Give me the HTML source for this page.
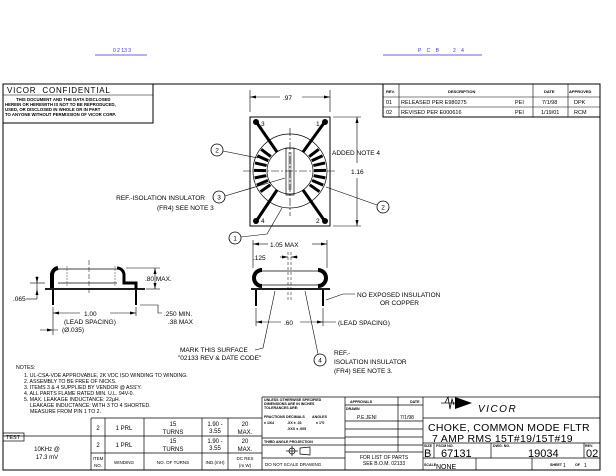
<!DOCTYPE html>
<html><head><meta charset="utf-8"><style>
html,body{margin:0;padding:0;background:#fff;}
svg{display:block;font-family:"Liberation Sans",sans-serif;}
</style></head><body>
<svg width="616" height="476" viewBox="0 0 616 476" xmlns="http://www.w3.org/2000/svg">
<rect width="616" height="476" fill="#fff"/>
<!-- blue header -->
<g fill="#3333cc" font-size="5">
<text x="113" y="52">0 2 13 3</text>
<text x="418" y="52" letter-spacing="2">P C B</text>
<text x="453" y="52" letter-spacing="2">2 4</text>
</g>
<g stroke="#3333cc" stroke-width="0.8">
<line x1="95" y1="55" x2="147" y2="55"/><line x1="383" y1="55" x2="482" y2="55"/>
</g>

<g stroke="#000" fill="none" stroke-width="1">
<!-- frame -->
<polyline points="3,84 600,84 600,470 3,470 3,84"/>
<!-- confidential box -->
<rect x="3" y="84" width="150" height="39"/>
<line x1="3" y1="95" x2="153" y2="95" stroke-width="0.6"/>
<!-- revision table -->
<rect x="383" y="84" width="217" height="33"/>
<line x1="383" y1="97" x2="600" y2="97" stroke-width="0.6"/>
<line x1="383" y1="107" x2="600" y2="107" stroke-width="0.6"/>
<line x1="399" y1="84" x2="399" y2="117" stroke-width="0.6"/>
<line x1="533" y1="84" x2="533" y2="117" stroke-width="0.6"/>
<line x1="568" y1="84" x2="568" y2="117" stroke-width="0.6"/>
</g>
<g font-size="8" letter-spacing="0.8"><text x="7" y="93">VICOR&#160;&#160;CONFIDENTIAL</text></g>
<g font-size="4.3" font-weight="bold">
<text x="16" y="101">THIS DOCUMENT AND THE DATA DISCLOSED</text>
<text x="5" y="106">HEREIN OR HEREWITH IS NOT TO BE REPRODUCED,</text>
<text x="5" y="111">USED, OR DISCLOSED IN WHOLE OR IN PART</text>
<text x="5" y="116">TO ANYONE WITHOUT PERMISSION OF VICOR CORP.</text>
</g>
<g font-size="4" font-weight="bold">
<text x="386" y="93">REV.</text><text x="448" y="93">DESCRIPTION</text>
<text x="544" y="93">DATE</text><text x="569" y="93">APPROVED</text>
</g>
<g font-size="5.5">
<text x="386" y="104">01</text><text x="401" y="104">RELEASED PER E980275</text><text x="515" y="104">PEI</text><text x="542" y="104">7/1/98</text><text x="574" y="104">DPK</text>
<text x="386" y="114">02</text><text x="401" y="114">REVISED PER E000616</text><text x="515" y="114">PEI</text><text x="541" y="114">1/19/01</text><text x="574" y="114">RCM</text>
</g>

<!-- TOP VIEW -->
<g stroke="#000" fill="none">
<rect x="250" y="117" width="80" height="109" stroke-width="1"/>
<line x1="250" y1="90" x2="250" y2="112" stroke-width="0.6"/>
<line x1="330" y1="90" x2="330" y2="112" stroke-width="0.6"/>
<line x1="250" y1="97" x2="280" y2="97" stroke-width="0.6"/>
<line x1="302" y1="97" x2="330" y2="97" stroke-width="0.6"/>
<line x1="333" y1="117" x2="361" y2="117" stroke-width="0.6"/>
<line x1="333" y1="226" x2="361" y2="226" stroke-width="0.6"/>
<line x1="357" y1="117" x2="357" y2="163" stroke-width="0.6"/>
<line x1="357" y1="178" x2="357" y2="226" stroke-width="0.6"/>
<circle cx="290" cy="171" r="37" stroke-width="0.7"/>
<circle cx="290" cy="171" r="23" stroke-width="0.7"/>
<rect x="286" y="148" width="8" height="47" stroke-width="0.7"/>
<line x1="289" y1="152" x2="289" y2="190" stroke-width="0.4"/>
<line x1="291" y1="152" x2="291" y2="190" stroke-width="0.4"/>
<line x1="243" y1="171" x2="335" y2="171" stroke-width="0.6" stroke-dasharray="8,2,2,2"/>
<line x1="290" y1="128" x2="290" y2="216" stroke-width="0.6" stroke-dasharray="8,2,2,2"/>
</g>
<g fill="#000">
<polygon points="250,97 256,95.5 256,98.5"/><polygon points="330,97 324,95.5 324,98.5"/>
<polygon points="357,117 355.5,123 358.5,123"/><polygon points="357,226 355.5,220 358.5,220"/>
</g>
<g stroke="#000" stroke-width="3">
<line x1="270.3" y1="184.8" x2="260.5" y2="191.7"/><line x1="267.9" y1="180.4" x2="256.8" y2="185.1"/>
<line x1="266.4" y1="175.6" x2="254.6" y2="177.9"/><line x1="266" y1="170.6" x2="254" y2="170.4"/>
<line x1="266.6" y1="165.6" x2="254.9" y2="162.9"/><line x1="268.3" y1="160.8" x2="257.4" y2="155.8"/>
<line x1="270.8" y1="156.6" x2="261.2" y2="149.3"/>
<line x1="309.7" y1="184.8" x2="319.5" y2="191.7"/><line x1="312.1" y1="180.4" x2="323.2" y2="185.1"/>
<line x1="313.6" y1="175.6" x2="325.4" y2="177.9"/><line x1="314" y1="170.6" x2="326" y2="170.4"/>
<line x1="313.4" y1="165.6" x2="325.1" y2="162.9"/><line x1="311.7" y1="160.8" x2="322.6" y2="155.8"/>
<line x1="309.2" y1="156.6" x2="318.8" y2="149.3"/>
<line x1="257" y1="123" x2="277" y2="152"/><line x1="324" y1="123" x2="303" y2="152"/>
<line x1="257" y1="220" x2="277" y2="190"/><line x1="324" y1="220" x2="303" y2="190"/>
</g>
<g fill="#000"><circle cx="256" cy="122" r="3"/><circle cx="325" cy="122" r="3"/><circle cx="256" cy="221" r="3"/><circle cx="325" cy="221" r="3"/></g>
<g font-size="6.5">
<text x="261" y="126">3</text><text x="316" y="126">1</text><text x="261" y="223">4</text><text x="316" y="223">2</text>
<text x="283" y="100">.97</text><text x="332" y="155">ADDED NOTE 4</text><text x="351" y="174">1.16</text>
<text x="205" y="200" text-anchor="end">REF.-ISOLATION INSULATOR</text>
<text x="157" y="210">(FR4) SEE NOTE 3</text>
</g>
<!-- balloons -->
<g stroke="#000" fill="#fff" stroke-width="0.8">
<circle cx="217" cy="150" r="6"/><circle cx="219" cy="197" r="6"/><circle cx="383" cy="207" r="6"/><circle cx="235" cy="238" r="6"/><circle cx="320" cy="360" r="6"/>
</g>
<g stroke="#000" fill="none" stroke-width="0.6">
<line x1="223" y1="151" x2="258" y2="158"/><line x1="225" y1="196" x2="285" y2="178"/>
<line x1="377" y1="205" x2="326" y2="187"/><polyline points="241,237 267,234 282,208"/>
<line x1="318" y1="354" x2="305" y2="291"/>
</g>
<g font-size="6.5" text-anchor="middle"><text x="217" y="152.5">2</text><text x="219" y="199.5">3</text><text x="383" y="209.5">2</text><text x="235" y="240.5">1</text><text x="320" y="362.5">4</text></g>

<!-- RIGHT SIDE VIEW -->
<g stroke="#000" fill="none">
<line x1="253" y1="240" x2="253" y2="268" stroke-width="0.6"/><line x1="327" y1="240" x2="327" y2="268" stroke-width="0.6"/>
<line x1="253" y1="244" x2="268" y2="244" stroke-width="0.6"/><line x1="312" y1="244" x2="327" y2="244" stroke-width="0.6"/>
<line x1="280" y1="257" x2="288" y2="257" stroke-width="0.6"/><line x1="291" y1="257" x2="298" y2="257" stroke-width="0.6"/>
<line x1="288" y1="252" x2="288" y2="300" stroke-width="0.5" stroke-dasharray="3,2"/>
<line x1="291" y1="252" x2="291" y2="300" stroke-width="0.5" stroke-dasharray="3,2"/>
<line x1="262" y1="271" x2="318" y2="271" stroke-width="0.7"/><line x1="262" y1="285" x2="318" y2="285" stroke-width="0.7"/>
<path d="M262,270 A8,8 0 0 0 262,286" stroke-width="4"/><path d="M318,270 A8,8 0 0 1 318,286" stroke-width="4"/>
<line x1="251" y1="289" x2="330" y2="289" stroke-width="1.8"/>
<line x1="256" y1="290" x2="256" y2="306" stroke-width="2"/><line x1="323" y1="290" x2="323" y2="306" stroke-width="2"/>
<line x1="256" y1="308" x2="256" y2="326" stroke-width="0.6"/><line x1="323" y1="308" x2="323" y2="326" stroke-width="0.6"/>
<line x1="256" y1="322" x2="281" y2="322" stroke-width="0.6"/><line x1="300" y1="322" x2="336" y2="322" stroke-width="0.6"/>
<polyline points="326,300 343,294 355,294" stroke-width="0.6"/>
<polyline points="275,291 263,348 255,350" stroke-width="0.6"/>
</g>
<g fill="#000">
<polygon points="253,244 259,242.5 259,245.5"/><polygon points="327,244 321,242.5 321,245.5"/>
<polygon points="256,322 262,320.5 262,323.5"/><polygon points="323,322 317,320.5 317,323.5"/>
<polygon points="288,257 282,255.5 282,258.5"/><polygon points="291,257 297,255.5 297,258.5"/>
</g>
<g font-size="6.5">
<text x="270" y="247">1.05 MAX</text><text x="253" y="260">.125</text>
<text x="357" y="297">NO EXPOSED INSULATION</text><text x="380" y="305">OR COPPER</text>
<text x="284" y="325">.60</text><text x="338" y="325">(LEAD SPACING)</text>
<text x="180" y="352">MARK THIS SURFACE</text><text x="178" y="360">"02133 REV &amp; DATE CODE"</text>
<text x="334" y="355">REF.-</text><text x="334" y="364">ISOLATION INSULATOR</text><text x="334" y="373">(FR4) SEE NOTE 3.</text>
</g>

<!-- LEFT SIDE VIEW -->
<g stroke="#000" fill="none">
<line x1="58" y1="269" x2="117" y2="269" stroke-width="0.7"/><line x1="58" y1="283" x2="117" y2="283" stroke-width="0.7"/>
<path d="M58,268 A7,7 0 0 0 52,275 L52,288" stroke-width="4"/>
<path d="M117,268 A7,7 0 0 1 124,275 L124,283 L136,283 L136,289" stroke-width="3"/>
<line x1="67" y1="266" x2="67" y2="286" stroke-width="0.4" stroke-dasharray="2,1"/>
<line x1="115" y1="266" x2="115" y2="286" stroke-width="0.4" stroke-dasharray="2,1"/>
<line x1="89" y1="260" x2="89" y2="295" stroke-width="0.5" stroke-dasharray="5,2"/>
<line x1="45" y1="289" x2="145" y2="289" stroke-width="1.8"/>
<line x1="53" y1="290" x2="53" y2="305" stroke-width="2"/><line x1="136" y1="290" x2="136" y2="305" stroke-width="2"/>
<line x1="53" y1="307" x2="53" y2="335" stroke-width="0.6"/><line x1="136" y1="307" x2="136" y2="316" stroke-width="0.6"/>
<line x1="126" y1="268" x2="160" y2="268" stroke-width="0.6"/><line x1="146" y1="289" x2="160" y2="289" stroke-width="0.6"/>
<line x1="155" y1="268" x2="155" y2="289" stroke-width="0.6"/>
<line x1="30" y1="283" x2="45" y2="283" stroke-width="0.6"/><line x1="37" y1="276" x2="37" y2="299" stroke-width="0.6"/>
<polyline points="26,299 37,299" stroke-width="0.6"/>
<line x1="53" y1="313" x2="80" y2="313" stroke-width="0.6"/><line x1="110" y1="313" x2="136" y2="313" stroke-width="0.6"/>
<polyline points="140,305 158,305 158,313 162,313" stroke-width="0.6"/>
<line x1="40" y1="330" x2="58" y2="330" stroke-width="0.6"/>
</g>
<g fill="#000">
<polygon points="53,313 59,311.5 59,314.5"/><polygon points="136,313 130,311.5 130,314.5"/>
<polygon points="155,268 153.5,274 156.5,274"/><polygon points="155,289 153.5,283 156.5,283"/>
<polygon points="37,283 35.5,277 38.5,277"/><polygon points="37,289 35.5,295 38.5,295"/>
<polygon points="53,330 47,328.5 47,331.5"/>
</g>
<g font-size="6.5">
<text x="145" y="281">.80 MAX.</text><text x="13" y="301">.065</text>
<text x="84" y="316">1.00</text><text x="64" y="324">(LEAD SPACING)</text>
<text x="164" y="316">.250 MIN.</text><text x="168" y="324">.38 MAX</text>
<text x="62" y="332">(Ø.035)</text>
</g>

<!-- NOTES -->
<g font-size="5.2">
<text x="16" y="369">NOTES:</text>
<text x="24" y="377">1. UL-CSA-VDE APPROVABLE, 2K VDC ISO WINDING TO WINDING.</text>
<text x="24" y="383">2. ASSEMBLY TO BE FREE OF NICKS.</text>
<text x="24" y="389">3. ITEMS 3 &amp; 4 SUPPLIED BY VENDOR @ ASS'Y.</text>
<text x="24" y="395">4. ALL PARTS FLAME RATED MIN. U.L. 94V-0.</text>
<text x="24" y="401">5. MAX. LEAKAGE INDUCTANCE: 22µH.</text>
<text x="30" y="407">LEAKAGE INDUCTANCE: WITH 3 TO 4 SHORTED.</text>
<text x="30" y="413">MEASURE FROM PIN 1 TO 2.</text>
</g>

<!-- LEFT TABLE -->
<g stroke="#000" fill="none" stroke-width="0.7">
<line x1="91" y1="418" x2="262" y2="418"/><line x1="3" y1="436" x2="262" y2="436"/><line x1="91" y1="453" x2="262" y2="453"/>
<line x1="3" y1="470" x2="262" y2="470"/>
<line x1="91" y1="418" x2="91" y2="470"/><line x1="105" y1="418" x2="105" y2="470"/><line x1="144" y1="418" x2="144" y2="470"/>
<line x1="202" y1="418" x2="202" y2="470"/><line x1="228" y1="418" x2="228" y2="470"/><line x1="262" y1="397" x2="262" y2="470"/>
<rect x="3" y="433" width="21" height="8"/>
</g>
<g font-size="6" text-anchor="middle">
<text x="13" y="439" font-size="5.5">TEST</text>
<text x="47" y="451">10KHz @</text><text x="47" y="459">17.3 mV</text>
<text x="98" y="430">2</text><text x="124" y="430">1 PRL</text><text x="173" y="426">15</text><text x="173" y="434">TURNS</text>
<text x="215" y="426">1.90 -</text><text x="215" y="433">3.55</text><text x="245" y="426">20</text><text x="245" y="434">MAX.</text>
<text x="98" y="447">2</text><text x="124" y="447">1 PRL</text><text x="173" y="443">15</text><text x="173" y="451">TURNS</text>
<text x="215" y="443">1.90 -</text><text x="215" y="450">3.55</text><text x="245" y="443">20</text><text x="245" y="451">MAX.</text>
<g font-size="4.5"><text x="98" y="460">ITEM</text><text x="98" y="467">NO.</text><text x="124" y="464">WINDING</text><text x="173" y="464">NO. OF TURNS</text><text x="215" y="464">IND.(mH)</text><text x="245" y="460">DC RES</text><text x="245" y="467">(m W)</text></g>
</g>

<!-- TITLE BLOCK -->
<g stroke="#000" fill="none" stroke-width="0.7">
<line x1="262" y1="397" x2="600" y2="397"/>
<line x1="345" y1="397" x2="345" y2="470"/><line x1="398" y1="397" x2="398" y2="452"/><line x1="423" y1="397" x2="423" y2="470"/>
<line x1="262" y1="438" x2="345" y2="438"/><line x1="262" y1="445" x2="345" y2="445"/><line x1="262" y1="458" x2="345" y2="458"/>
<line x1="345" y1="405" x2="423" y2="405"/><line x1="345" y1="421" x2="423" y2="421"/><line x1="345" y1="429" x2="423" y2="429"/>
<line x1="345" y1="437" x2="423" y2="437"/><line x1="345" y1="445" x2="423" y2="445"/><line x1="345" y1="452" x2="423" y2="452"/>
<line x1="423" y1="418" x2="600" y2="418"/><line x1="423" y1="443" x2="600" y2="443"/><line x1="423" y1="458" x2="600" y2="458"/>
<line x1="434" y1="443" x2="434" y2="458"/><line x1="491" y1="443" x2="491" y2="458"/><line x1="584" y1="443" x2="584" y2="458"/>
<line x1="476" y1="458" x2="476" y2="470"/><line x1="532" y1="458" x2="532" y2="470"/>
<circle cx="292" cy="451" r="3"/><line x1="286" y1="451" x2="298" y2="451"/><line x1="292" y1="446" x2="292" y2="456"/>
<polygon points="300,448 310,447 310,455 300,454"/>
<line x1="441" y1="403" x2="456" y2="403"/>
</g>
<polygon points="455,397 472,403 455,409" fill="#000"/>
<polyline points="445,403 448,397 450,409 452,399 454,405" stroke="#000" fill="none" stroke-width="0.8"/>
<g font-size="3.6" font-weight="bold">
<text x="264" y="401">UNLESS OTHERWISE SPECIFIED</text><text x="264" y="405">DIMENSIONS ARE IN INCHES</text><text x="264" y="409">TOLERANCES ARE:</text>
<text x="264" y="418">FRACTIONS</text><text x="286" y="418">DECIMALS</text><text x="312" y="418">ANGLES</text>
<text x="264" y="424">± 1/64</text><text x="287" y="424">.XX ± .01</text><text x="316" y="424">± 1°0</text><text x="287" y="430">.XXX ± .005</text>
<text x="264" y="443">THIRD ANGLE PROJECTION</text>
<text x="350" y="403">APPROVALS</text><text x="410" y="403">DATE</text><text x="346" y="410">DRAWN</text>
<text x="265" y="466" font-size="4.5" font-weight="normal">DO NOT SCALE DRAWING</text>
<text x="424" y="447">SIZE</text><text x="436" y="447">FSCM NO.</text><text x="493" y="447">DWG. NO.</text><text x="585" y="447">REV.</text>
<text x="424" y="466">SCALE</text><text x="550" y="466">SHEET</text><text x="575" y="466">OF</text>
</g>
<g font-size="5">
<text x="357" y="419">P.E.JENI</text><text x="400" y="419">7/1/98</text>
<text x="384" y="459" text-anchor="middle">FOR LIST OF PARTS</text><text x="384" y="465" text-anchor="middle">SEE B.O.M. 02133</text>
<text x="563" y="467">1</text><text x="584" y="467">1</text>
</g>
<text x="478" y="412" font-size="10" font-style="italic" letter-spacing="1.5" fill="#000">VICOR</text>
<g font-size="10.5" letter-spacing="0.3">
<text x="428" y="431">CHOKE, COMMON MODE FLTR</text>
<text x="432" y="442">7 AMP RMS 15T#19/15T#19</text>
</g>
<g font-size="11"><text x="424" y="457">B</text><text x="441" y="457">67131</text><text x="528" y="457">19034</text><text x="586" y="457">02</text></g>
<text x="436" y="469" font-size="7">NONE</text>
</svg>
</body></html>
